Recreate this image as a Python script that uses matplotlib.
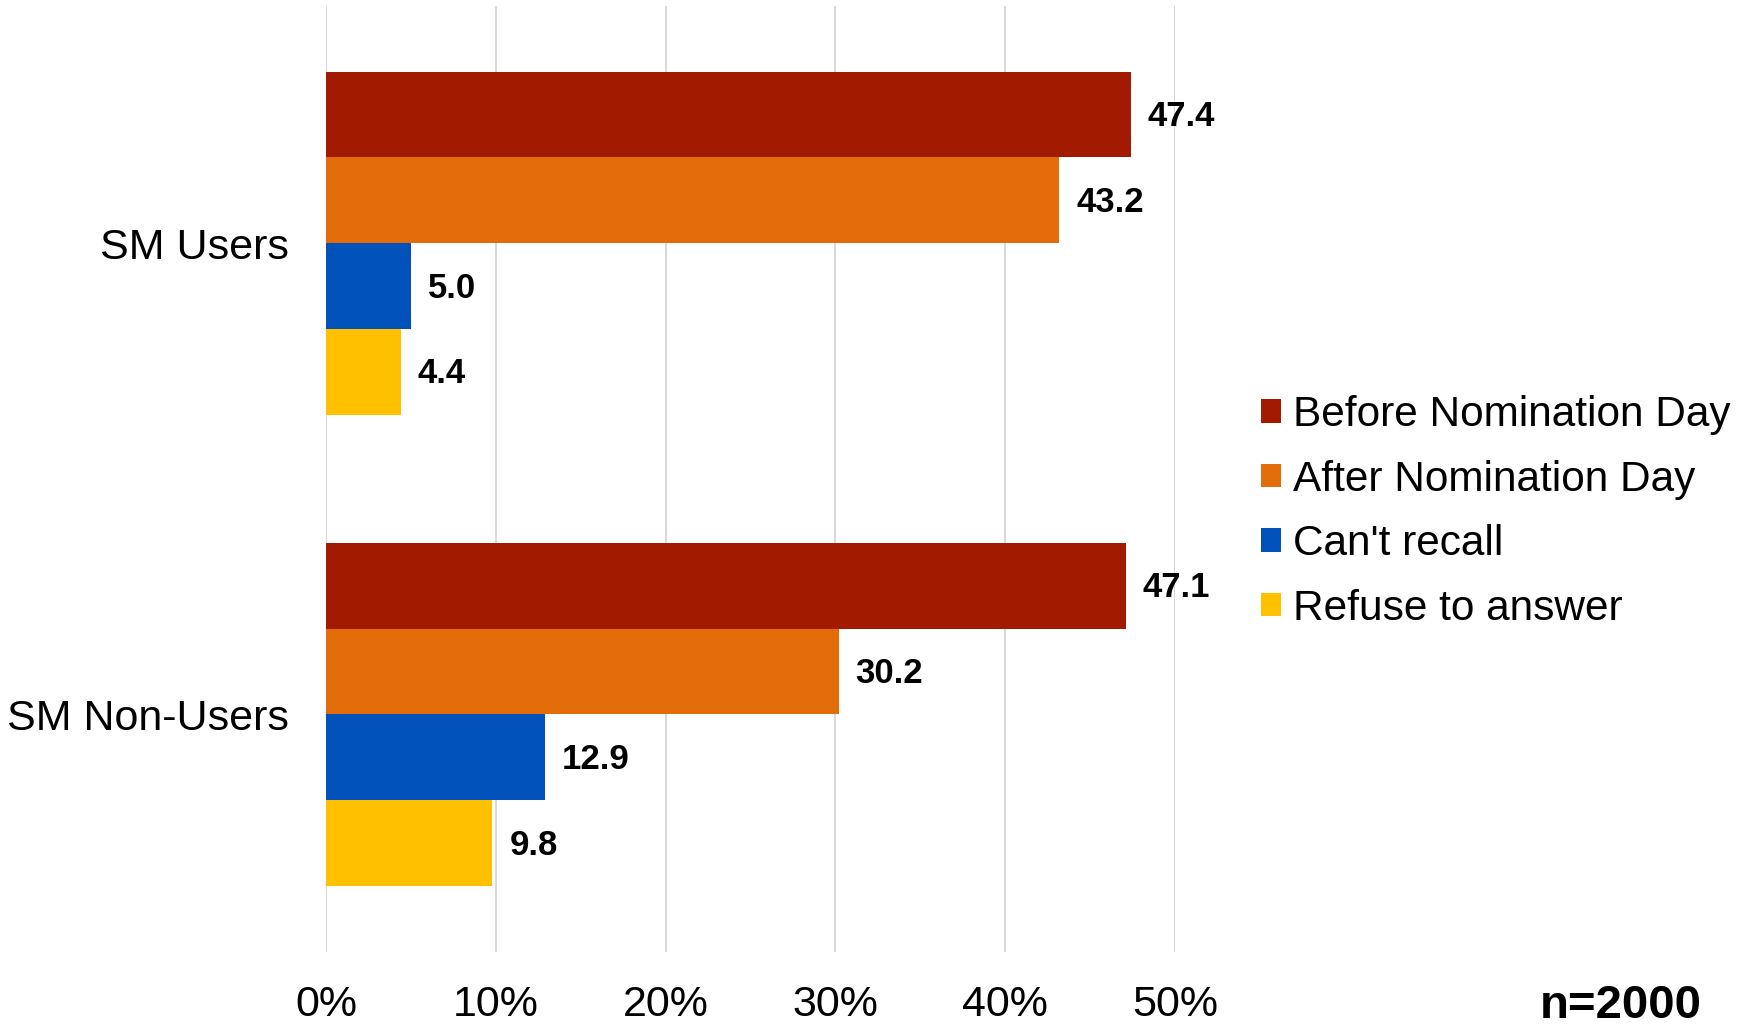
import matplotlib
matplotlib.use("Agg")
import matplotlib.pyplot as plt
from matplotlib.patches import Patch
import numpy as np

plt.rcParams['font.family'] = ['Liberation Sans', 'DejaVu Sans']

groups = ["SM Non-Users", "SM Users"]
series = ["Before Nomination Day", "After Nomination Day", "Can't recall", "Refuse to answer"]
before = [47.1, 47.4]
after = [30.2, 43.2]
cant_recall = [12.9, 5.0]
refuse = [9.8, 4.4]
values = [before, after, cant_recall, refuse]
colors = ["#A21B00", "#E36C0A", "#0052BA", "#FFC000"]
xticks = [0, 10, 20, 30, 40, 50]
xticklabels = ["0%", "10%", "20%", "30%", "40%", "50%"]

fig = plt.figure(figsize=(17.56, 10.32), dpi=100)
ax = fig.add_axes([0.1857, 0.078, 0.669 - 0.1857, 0.916])

h = 0.182
y = np.arange(len(groups))
offsets = [1.5 * h, 0.5 * h, -0.5 * h, -1.5 * h]
for vals, col, off, name in zip(values, colors, offsets, series):
    bars = ax.barh(y + off, vals, height=h, color=col, label=name, zorder=3)
    for b, v in zip(bars, vals):
        ax.annotate(f"{v:.1f}", xy=(v, b.get_y() + b.get_height() / 2),
                    xytext=(17, -2), textcoords="offset pixels",
                    ha="left", va="center", fontsize=25, fontweight="bold",
                    annotation_clip=False)

ax.set_xlim(0, 50)
ax.set_ylim(-0.503, 1.503)
ax.set_xticks(xticks)
ax.set_xticklabels(xticklabels, fontsize=31)
ax.set_yticks(y)
ax.set_yticklabels(groups, fontsize=31)
ax.tick_params(axis="x", length=0, pad=24)
ax.tick_params(axis="y", length=0, pad=27)
ax.grid(axis="x", color="#D9D9D9", linewidth=1.5, zorder=0)
ax.set_axisbelow(True)
for s in ax.spines.values():
    s.set_visible(False)

handles = [Patch(facecolor=c, edgecolor="none") for c in colors]
fig.legend(handles, series, loc="center left", bbox_to_anchor=(0.718, 0.504),
           frameon=False, fontsize=30.5, handlelength=0.47, handleheight=0.47,
           handletextpad=0.28, labelspacing=0.58, borderpad=0, borderaxespad=0)

fig.text(0.923, 0.004, "n=2000", ha="center", va="bottom", fontsize=34, fontweight="bold")

fig.savefig("out.png", dpi=100)
